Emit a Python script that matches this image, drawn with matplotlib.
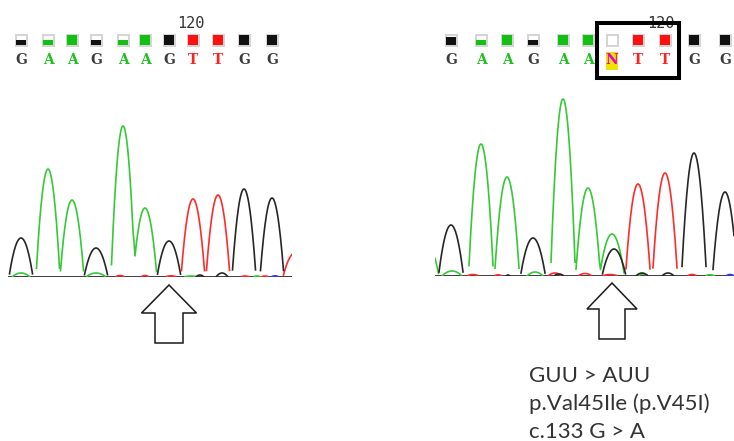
import numpy as np
import matplotlib.pyplot as plt
from matplotlib.patches import Rectangle, Polygon

# wild type read (left) - base calls, peak centres (scan units), peak heights, call quality
left_bases = list("GAAGAAGTTGG")
left_pos = [13, 40, 64, 88, 115, 137, 161, 185, 210, 236, 264]
left_height = [39, 108, 77, 29, 151, 69, 36, 78, 82, 88, 79]
left_quality = [0.55, 0.55, 1, 0.55, 0.55, 1, 1, 1, 1, 1, 1]
# extra signal: (channel, centre, height, half width)
left_minor = [('A', 13, 4, 9), ('A', 88, 4, 10), ('T', 112, 1.5, 5), ('T', 137, 1.5, 4),
              ('T', 163, 1.2, 6), ('A', 183, 1.0, 8), ('G', 192, 2, 4), ('G', 214, 4, 6),
              ('T', 237, 1, 5), ('A', 249, 1, 4), ('T', 257, 1, 4), ('C', 267, 1.2, 4),
              ('T', 287, 24, 12)]

# patient read (right) - N call has a green and a black peak
right_bases = list("GAAGAANTTGG")
right_chan = list("GAAGAAATTGG")
right_pos = [16, 46, 72, 98, 128, 153, 177, 203, 230, 259, 290]
right_height = [51, 132, 99, 38, 177, 88, 42, 92, 103, 123, 84]
right_quality = [0.8, 0.5, 1, 0.5, 1, 1, 0, 1, 1, 1, 1]
right_minor = [('G', 179, 27, 12), ('A', -8, 32, 12),
               ('A', 17, 5, 10), ('T', 38, 1.5, 6), ('T', 63, 1.2, 4), ('G', 73, 1, 2),
               ('A', 100, 4, 8), ('T', 120, 3, 7), ('G', 124, 2, 5), ('T', 150, 2.5, 7),
               ('T', 175, 1.5, 8), ('A', 208, 2, 5), ('G', 207, 3, 6), ('G', 233, 3, 6),
               ('T', 257, 1.5, 5), ('A', 275, 1.2, 5), ('C', 295, 1.5, 4)]

mutation = ["GUU > AUU", "p.Val45Ile (p.V45I)", "c.133 G > A"]

trace_col = {'A': '#35c935', 'C': '#2a3cff', 'G': '#262626', 'T': '#ff2b2b'}
sq_col = {'A': '#12c012', 'C': '#2a3cff', 'G': '#111111', 'T': '#ff1010'}
base_col = {'A': '#1fc01f', 'C': '#2a3cff', 'G': '#3c3c3c', 'T': '#ff2020', 'N': '#e000e0'}


def peak(x, c, h, w):
    # chromatogram peaks are roughly parabolic with sharp feet
    return h * np.clip(1 - ((x - c) / w) ** 2, 0, None)


def draw_read(ax, bases, chans, pos, height, quality, minor, width, w):
    x = np.arange(0, width + 0.5, 0.5)
    traces = {k: np.zeros_like(x) for k in 'ACGT'}
    for ch, p, h in zip(chans, pos, height):
        traces[ch] += peak(x, p, h, w)
    for ch, p, h, hw in minor:
        traces[ch] += peak(x, p, h, hw)

    ax.plot([0, width], [0, 0], color='#2e2e2e', lw=1.3, zorder=1, solid_capstyle='butt')
    ax.plot([0, width], [-2.5, -2.5], color='#d2d2d2', lw=1.0, zorder=1)
    for ch in ['C', 'T', 'A', 'G']:
        y = np.where(traces[ch] > 0.4, traces[ch], np.nan)
        ax.plot(x, y, color=trace_col[ch], lw=1.2, zorder=2)

    # quality squares and base letters
    for b, p, q in zip(bases, pos, quality):
        col = sq_col.get(b, '#111111')
        ax.add_patch(Rectangle((p - 5.5, SQ_Y - 5.5), 11, 11, fc='white', ec='#d4d4d4', lw=1.4, zorder=3))
        if q > 0:
            ax.add_patch(Rectangle((p - 4.6, SQ_Y - 4.6), 9.2, 9.2 * q, fc=col, ec='none', zorder=4))
        if b == 'N':
            ax.add_patch(Rectangle((p - 6, 206), 12, 18, fc='#f2e200', ec='none', zorder=3))
        ax.text(p, LET_Y, b, color=base_col[b], fontsize=10, family='DejaVu Serif',
                weight='bold', ha='center', va='center', zorder=5)


def draw_arrow(ax, x, tip, head, bottom, hw, sw):
    pts = [(x, tip), (x + hw, head), (x + sw, head), (x + sw, bottom),
           (x - sw, bottom), (x - sw, head), (x - hw, head)]
    ax.add_patch(Polygon(pts, closed=True, fc='white', ec='#1a1a1a', lw=1.1,
                         clip_on=False, zorder=5))


fig = plt.figure(figsize=(7.34, 4.41), dpi=100)
W, H = 734, 441
SQ_Y = 237
LET_Y = 216.5

# left panel: 1 data unit = 1 pixel, baseline at 277 px from the top
ax1 = fig.add_axes([8 / W, (H - 277) / H, 284 / W, 277 / H])
ax1.set_xlim(0, 284)
ax1.set_ylim(0, 277)
ax1.axis('off')
draw_read(ax1, left_bases, left_bases, left_pos, left_height, left_quality, left_minor, 284, 12)
ax1.text(183, 254, "120", fontsize=11, family='DejaVu Sans Mono', color='#333333',
         ha='center', va='center')
draw_arrow(ax1, left_pos[6], -8, -36, -66, 27.5, 14)

# right panel, baseline at 276 px
ax2 = fig.add_axes([435 / W, (H - 276) / H, 299 / W, 276 / H])
ax2.set_xlim(0, 299)
ax2.set_ylim(0, 276)
ax2.axis('off')
SQ_Y = 236
LET_Y = 216
draw_read(ax2, right_bases, right_chan, right_pos, right_height, right_quality, right_minor, 299, 12.5)
ax2.text(226, 253, "120", fontsize=11, family='DejaVu Sans Mono', color='#333333',
         ha='center', va='center', zorder=2)
# box around the mutated codon
ax2.add_patch(Rectangle((162, 198), 82, 55, fc='none', ec='black', lw=2.9, zorder=6, clip_on=False))
draw_arrow(ax2, right_pos[6], -7, -33, -63, 25, 13)

for i, line in enumerate(mutation):
    ax2.text(94, -100 - 28 * i, line, fontsize=16, family='Lato', color='#333333',
             ha='left', va='center', clip_on=False)

fig.savefig('out.png', dpi=100)
